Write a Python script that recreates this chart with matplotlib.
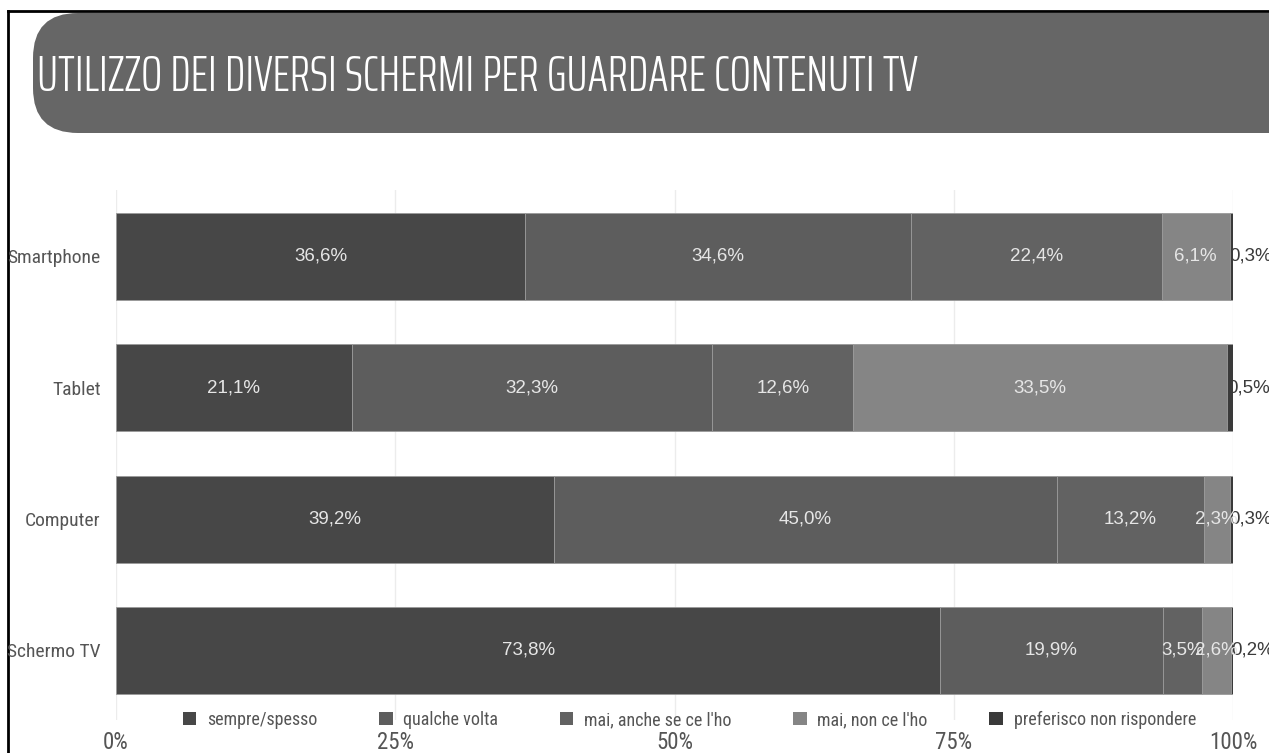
import matplotlib
matplotlib.use("Agg")
import matplotlib.pyplot as plt
import numpy as np
from matplotlib.patches import FancyBboxPatch
from matplotlib.lines import Line2D
from matplotlib import font_manager

# percentuali per schermo (ogni riga somma a 100)
schermi = ["Smartphone", "Tablet", "Computer", "Schermo TV"]
risposte = ["sempre/spesso", "qualche volta", "mai, anche se ce l'ho",
            "mai, non ce l'ho", "preferisco non rispondere"]
sempre = [36.6, 21.1, 39.2, 73.8]
qualche = [34.6, 32.3, 45.0, 19.9]
mai_ho = [22.4, 12.6, 13.2, 3.5]
mai_non_ho = [6.1, 33.5, 2.3, 2.6]
non_risp = [0.3, 0.5, 0.3, 0.2]
tick_pct = [0, 25, 50, 75, 100]

serie = [sempre, qualche, mai_ho, mai_non_ho, non_risp]
colori = ["#474747", "#5d5d5d", "#626262", "#858585", "#3a3a3a"]


def font_leggero(famiglia, peso=300):
    # file della famiglia con il peso piu' vicino a quello chiesto
    cand = [f for f in font_manager.fontManager.ttflist
            if f.name == famiglia and f.style == "normal"]
    if not cand:
        return font_manager.FontProperties(family="DejaVu Sans")
    f = min(cand, key=lambda f: abs(int(f.weight) - peso) if str(f.weight).isdigit() else 999)
    return font_manager.FontProperties(fname=f.fname)


COND = "Roboto Condensed"
SANS = "Liberation Sans"

W, H = 1269, 753
fig = plt.figure(figsize=(W / 100, H / 100), dpi=100)
fig.patch.set_facecolor("white")

# fondo: cornice nera e fascia del titolo
bg = fig.add_axes([0, 0, 1, 1])
bg.set_xlim(0, W)
bg.set_ylim(H, 0)
bg.axis("off")
bg.add_patch(FancyBboxPatch((33, 13), 1300, 120,
                            boxstyle="round,pad=0,rounding_size=45",
                            facecolor="#666666", edgecolor="none"))
bg.add_line(Line2D([8, W], [11, 11], color="black", lw=2))
bg.add_line(Line2D([8, 8], [11, H], color="black", lw=2))
fp_titolo = font_leggero("Saira ExtraCondensed", 300)
fp_titolo.set_size(35.8)
bg.text(37, 91, "UTILIZZO DEI DIVERSI SCHERMI PER GUARDARE CONTENUTI TV",
        color="white", fontproperties=fp_titolo, va="baseline", ha="left")

# grafico a barre orizzontali impilate
ax = fig.add_axes([116 / W, 1 - 720 / H, (1233 - 116) / W, (720 - 190) / H])
ax.set_xlim(0, 100)
ax.set_ylim(3.53, -0.506)
y = np.arange(len(schermi))
left = np.zeros(len(schermi))
for vals, col, nome in zip(serie, colori, risposte):
    vals = np.array(vals)
    ax.barh(y, vals, left=left, height=0.663, color=col, edgecolor="#9a9a9a",
            linewidth=0.6, label=nome, zorder=2)
    for yi, l, v in zip(y, left, vals):
        lab = f"{v:.1f}%".replace(".", ",")
        if v < 1:
            ax.text(l, yi, lab, ha="left", va="center", color="#3a3a3a",
                    fontsize=13.5, family=SANS, zorder=1)
        else:
            ax.text(l + v / 2, yi, lab, ha="center", va="center", color="#e6e6e6",
                    fontsize=13.5, family=SANS, zorder=3)
    left = left + vals

ax.set_yticks(y)
ax.set_yticklabels(schermi, family=COND, fontsize=14, color="#555555")
ax.set_xticks(tick_pct)
ax.set_xticklabels([f"{t}%" for t in tick_pct], family=COND,
                   fontsize=16.5, color="#555555")
ax.tick_params(axis="y", length=0, pad=11)
ax.tick_params(axis="x", length=0, pad=8)
ax.grid(axis="x", color="#ececec", lw=1, zorder=0)
for s in ax.spines.values():
    s.set_visible(False)
ax.patch.set_alpha(0)

handles, labels = ax.get_legend_handles_labels()
leg = fig.legend(handles, labels, loc="center", bbox_to_anchor=(0.5433, 1 - 720 / H),
                 ncol=5, frameon=False, prop={"family": COND, "size": 13},
                 handlelength=0.75, handleheight=0.75, handletextpad=0.6,
                 columnspacing=3.4)
for t in leg.get_texts():
    t.set_color("#555555")
for h in leg.legend_handles:
    h.set_edgecolor("none")

fig.savefig("out.png", dpi=100)
